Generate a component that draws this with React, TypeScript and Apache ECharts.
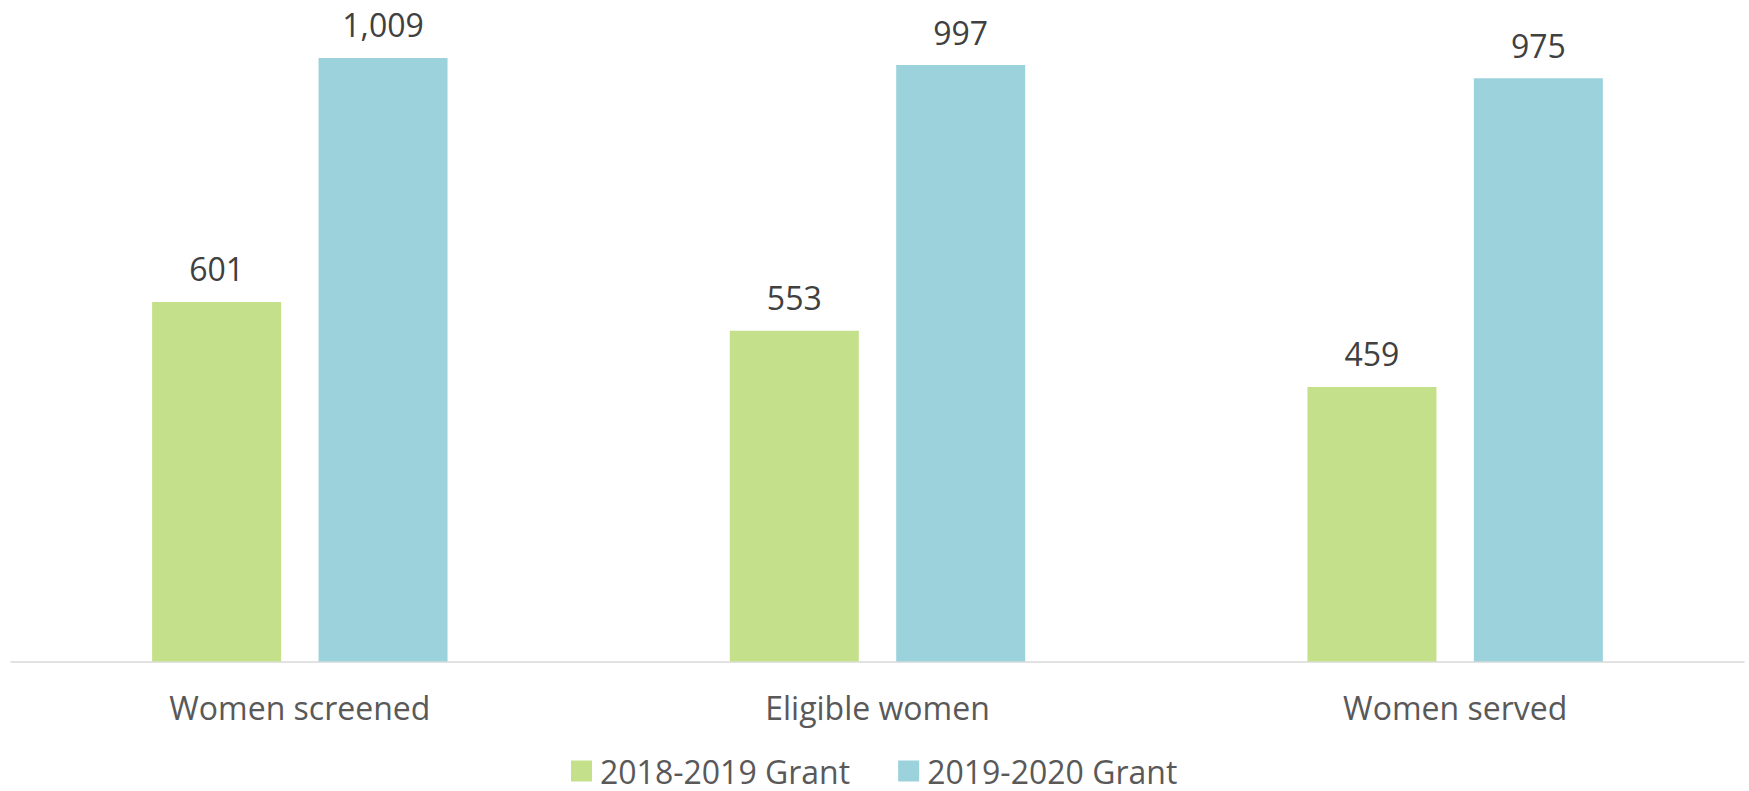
import React, { useEffect, useRef } from "react";
import * as echarts from "echarts";

const categories = ["Women screened", "Eligible women", "Women served"];
const grant2018 = [601, 553, 459];
const grant2020 = [1009, 997, 975];
const seriesNames = ["2018-2019 Grant", "2019-2020 Grant"];

const FONT = "'Open Sans', sans-serif";

export default function App() {
  const ref = useRef<HTMLDivElement>(null);
  useEffect(() => {
    document.body.style.margin = "0";
    const chart = echarts.init(ref.current!, null, { renderer: "svg" });
    const labelOpt = {
      show: true,
      position: "top",
      distance: 17,
      color: "#404040",
      fontFamily: FONT,
      fontSize: 32,
      formatter: (p: any) => Number(p.value).toLocaleString("en-US"),
    };
    chart.setOption({
      animation: false,
      backgroundColor: "#ffffff",
      textStyle: { fontFamily: FONT },
      grid: { left: 11, right: 5, top: 3.5, bottom: 129.5, containLabel: false },
      legend: {
        bottom: 4,
        left: 571,
        padding: 0,
        itemWidth: 21,
        itemHeight: 21,
        itemGap: 48,
        icon: "rect",
        textStyle: {
          fontSize: 32,
          lineHeight: 32,
          color: "#595959",
          fontFamily: FONT,
          padding: [0, 0, 0, 3],
        },
        data: seriesNames,
      },
      xAxis: {
        type: "category",
        data: categories,
        axisLine: { show: true, lineStyle: { color: "#d9d9d9", width: 1.5 } },
        axisTick: { show: false },
        axisLabel: { color: "#595959", fontSize: 32, fontFamily: FONT, margin: 30 },
      },
      yAxis: {
        type: "value",
        min: 0,
        max: 1100,
        show: false,
        splitLine: { show: false },
      },
      series: [
        {
          name: seriesNames[0],
          type: "bar",
          data: grant2018,
          barWidth: 129,
          barGap: "29%",
          itemStyle: { color: "#c4e08b" },
          label: labelOpt,
        },
        {
          name: seriesNames[1],
          type: "bar",
          data: grant2020,
          barWidth: 129,
          itemStyle: { color: "#9bd2dc" },
          label: labelOpt,
        },
      ],
    });
    return () => chart.dispose();
  }, []);
  return <div ref={ref} style={{ width: 1749, height: 791 }} />;
}
